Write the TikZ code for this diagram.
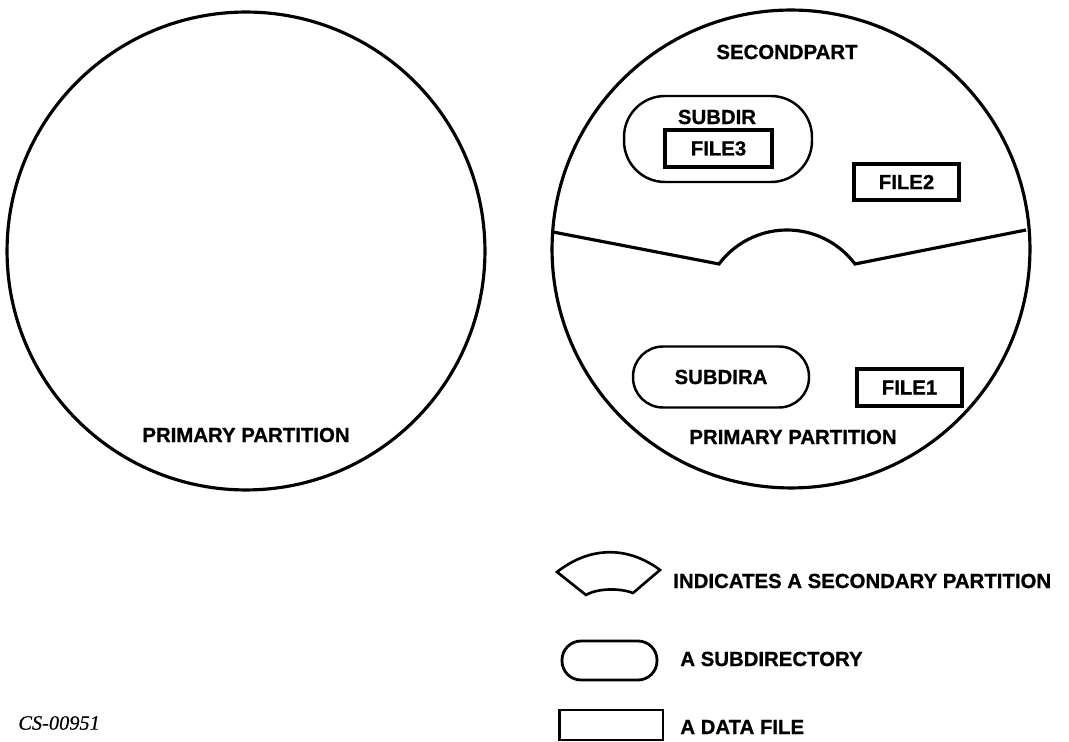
\documentclass[tikz,border=0pt]{standalone}
\usepackage{fontspec}
\setmainfont{Liberation Sans}
\newfontfamily\heavy[FakeBold=0.8]{Liberation Sans Bold}
\newfontfamily\serifit[FakeBold=0.4]{Liberation Serif Italic}
\begin{document}
\begin{tikzpicture}[x=0.02cm,y=-0.02cm,
  lbl/.style={font=\heavy\fontsize{11.6}{13}\selectfont, inner sep=0pt},
  disk/.style={circle, draw, line width=1.8pt, minimum size=9.56cm, inner sep=0pt},
  filebox/.style={draw, line width=2pt, rectangle, inner sep=0pt, font=\heavy\fontsize{11.6}{13}\selectfont},
  dirbox/.style={draw, line width=1.4pt, rectangle, inner sep=0pt, font=\heavy\fontsize{11.6}{13}\selectfont},
  part/.style={line width=1.8pt, line join=miter}]
\useasboundingbox (0,0) rectangle (1069,742);

% left disk
\node[disk] (left) at (246,251) {};
\node[lbl] (lpp) at (246,435) {PRIMARY PARTITION};

% right disk
\node[disk] (right) at (791,249) {};
\node[lbl] (sp) at (787,52) {SECONDPART};
\node[dirbox, rounded corners=0.82cm, minimum width=3.76cm, minimum height=1.72cm] (subdir) at (718,139) {};
\node[lbl] (subdirt) at (717,117) {SUBDIR};
\node[filebox, minimum width=2.14cm, minimum height=0.74cm] (file3) at (718.5,148.5) {FILE3};
\node[filebox, minimum width=2.1cm, minimum height=0.72cm] (file2) at (906.5,182) {FILE2};
\draw[part] (553,232) -- (719,264) arc[start angle=143.13, end angle=36.87, radius=1.7cm] -- (1026,230);
\node[dirbox, rounded corners=0.6cm, minimum width=3.52cm, minimum height=1.22cm] (subdira) at (721,377) {SUBDIRA};
\node[filebox, minimum width=2.1cm, minimum height=0.74cm] (file1) at (909.5,387.5) {FILE1};
\node[lbl] (rpp) at (793,437) {PRIMARY PARTITION};

% legend
\draw[line width=1.5pt, line join=miter] (557,572) .. controls (590,546) and (628,546) .. (660,570)
  -- (633,593) .. controls (620,588) and (598,588) .. (586,595) -- cycle;
\node[lbl, anchor=west] (l1) at (673,581) {INDICATES A SECONDARY PARTITION};
\node[dirbox, line width=1.6pt, rounded corners=0.38cm, minimum width=1.9cm, minimum height=0.78cm] (l2box) at (609.5,660.5) {};
\node[lbl, anchor=west] (l2) at (680,659) {A SUBDIRECTORY};
\node[filebox, line width=1.7pt, minimum width=2.08cm, minimum height=0.6cm] (l3box) at (611,725) {};
\node[lbl, anchor=west] (l3) at (680,727) {A DATA FILE};

\node[inner sep=0pt, anchor=west, font=\serifit\fontsize{11.6}{13}\selectfont] (cs) at (18,723) {CS-00951};
\end{tikzpicture}
\end{document}
